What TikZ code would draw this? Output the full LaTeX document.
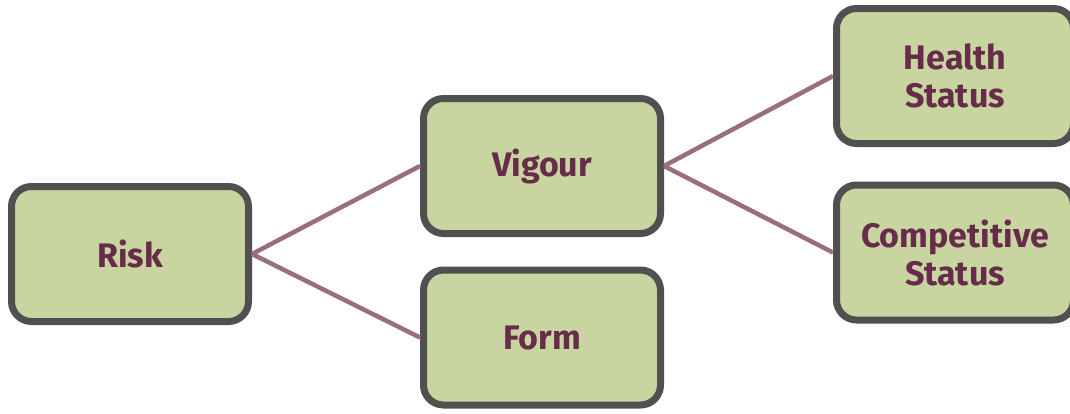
\documentclass[tikz,border=0pt]{standalone}
\usepackage{fontspec}
\setmainfont{Fira Sans}
\definecolor{boxfill}{HTML}{C8D5A0}
\definecolor{boxline}{HTML}{505050}
\definecolor{textplum}{HTML}{662C4A}
\definecolor{linkmauve}{HTML}{9A6E7C}
\begin{document}
\begin{tikzpicture}[x=1pt,y=-1pt,
    factor/.style={draw=boxline,fill=boxfill,line width=7pt,rounded corners=20pt,
        minimum width=237pt,minimum height=135pt,align=center,text=textplum,
        font=\fontsize{34}{38}\selectfont\bfseries},
    link/.style={draw=linkmauve,line width=4.5pt}]
            \useasboundingbox (0,0) rectangle (1070,413); % canvas
            \node[factor] (risk) at (130,254) {Risk};
            \node[factor] (vigour) at (542,166) {Vigour};
            \node[factor] (form) at (542,337.5) {Form};
            \node[factor] (health) at (955,76) {Health\\Status};
            \node[factor] (comp) at (955,252.5) {Competitive\\Status};
            % links between the boxes
            \draw[link] (risk.east) -- (vigour.west);
            \draw[link] (risk.east) -- (form.west);
            \draw[link] (vigour.east) -- (health.west);
            \draw[link] (vigour.east) -- (comp.west);
            \end{tikzpicture}
\end{document}
